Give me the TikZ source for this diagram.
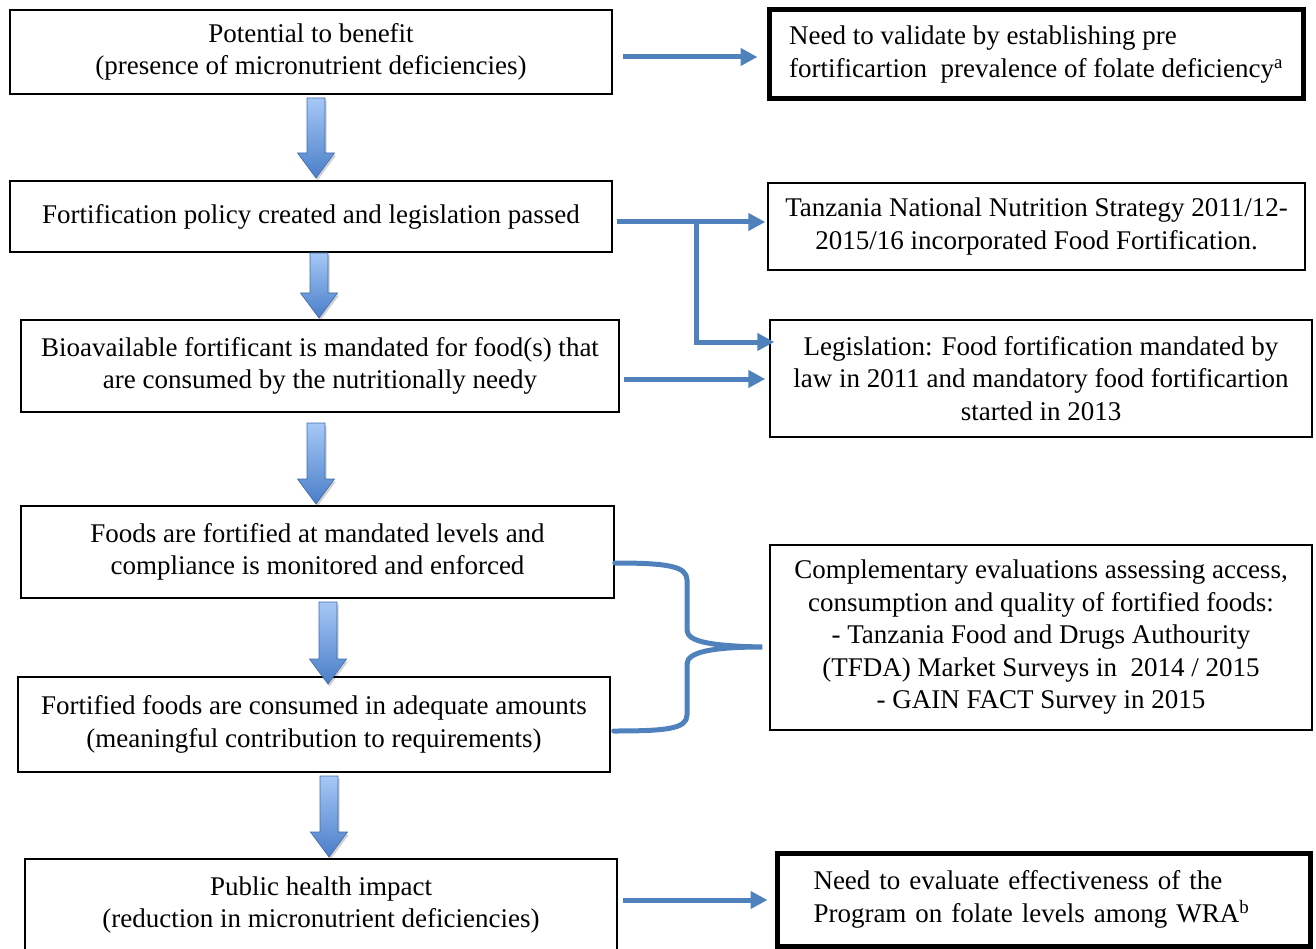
\documentclass[tikz,border=0pt]{standalone}
\usepackage{fontspec}
\setmainfont{Liberation Serif}
\usepackage{tikz}
\usetikzlibrary{positioning,calc,arrows.meta}

\definecolor{linkblue}{HTML}{4F81BD}
\definecolor{arrowtop}{HTML}{A6C8F6}
\definecolor{arrowbot}{HTML}{4A7EC9}

% block arrow: centre x, top y, tip y
\newcommand{\blockarr}[3]{%
  \shade[top color=arrowtop, bottom color=arrowbot, draw=arrowbot!85!black, line width=0.6pt,
    preaction={fill=black, opacity=0.18, transform canvas={xshift=1.5pt, yshift=-2.5pt}}]
    (#1-9,#2) -- (#1+9,#2) -- (#1+9,#3-25) -- (#1+18.5,#3-25) -- (#1,#3)
    -- (#1-18.5,#3-25) -- (#1-9,#3-25) -- cycle;}

\begin{document}
\begin{tikzpicture}[x=1pt,y=-1pt,
  box/.style={draw, line width=1.5pt, align=center, inner sep=0pt,
    font=\fontsize{27}{32.5}\selectfont},
  thickbox/.style={box, line width=5pt},
  link/.style={draw=linkblue, line width=5pt, -{Triangle[length=17pt,width=17pt]}}]
  \useasboundingbox (0,0) rectangle (1316,949);

  % left column
  \node[box, minimum width=602pt, minimum height=84pt] (b1) at (311,52)
    {Potential to benefit\\(presence of micronutrient deficiencies)};
  \node[box, minimum width=602pt, minimum height=71pt] (b2) at (311,216.5)
    {Fortification policy created and legislation passed};
  \node[box, minimum width=598pt, minimum height=92pt] (b3) at (320,366)
    {Bioavailable fortificant is mandated for food(s) that\\are consumed by the nutritionally needy};
  \node[box, minimum width=593pt, minimum height=92pt] (b4) at (317.5,552)
    {Foods are fortified at mandated levels and\\compliance is monitored and enforced};
  \node[box, minimum width=592pt, minimum height=95pt] (b5) at (314,724.5)
    {Fortified foods are consumed in adequate amounts\\(meaningful contribution to requirements)};
  \node[box, minimum width=592pt, minimum height=92pt] (b6) at (321,905)
    {Public health impact\\(reduction in micronutrient deficiencies)};

  % right column
  \node[thickbox, align=left, minimum width=534pt, minimum height=89pt] (r1) at (1036,54.5)
    {Need to validate by establishing pre\\fortificartion~ prevalence of folate deficiency\textsuperscript{a}};
  \node[box, minimum width=537pt, minimum height=87pt] (r2) at (1036.5,226.5)
    {Tanzania National Nutrition Strategy 2011/12-\\2015/16 incorporated Food Fortification.};
  \node[box, minimum width=542pt, minimum height=117pt] (r3) at (1041,378.5)
    {Legislation: Food fortification mandated by\\law in 2011 and mandatory food fortificartion\\started in 2013};
  \node[box, minimum width=542pt, minimum height=185pt] (r4) at (1041,637.5)
    {Complementary evaluations assessing access,\\consumption and quality of fortified foods:\\- Tanzania Food and Drugs Authourity\\(TFDA) Market Surveys in~ 2014 / 2015\\- GAIN FACT Survey in 2015};
  \node[thickbox, align=left, text width=460pt, inner xsep=36.5pt, minimum height=93pt] (r5) at (1043.5,899.5)
    {Need to evaluate effectiveness of the\\Program on folate levels among WRA\textsuperscript{b}};

  % block arrows down the left column
  \blockarr{316}{98}{178}
  \blockarr{319}{253}{318}
  \blockarr{316}{423}{504}
  \blockarr{328}{602}{684}
  \blockarr{329}{776}{857}

  % links to the right column
  \coordinate (c1) at ($(b1.east)+(10,5)$);
  \draw[link, shorten >=9pt] (c1) -- (c1 -| r1.west);
  \coordinate (c2) at ($(b2.east)+(4,5.5)$);
  \draw[link, shorten >=2pt] (c2) -- (c2 -| r2.west);
  \coordinate (c2j) at ($(c2)+(80,0)$);
  \draw[link, shorten >=-5pt] (c2j) |- ([yshift=36.5pt]r3.west);
  \coordinate (c3) at ($(b3.east)+(4,13)$);
  \draw[link, shorten >=4pt] (c3) -- (c3 -| r3.west);
  \coordinate (c6) at ($(b6.east)+(5,-5)$);
  \draw[link, shorten >=7pt] (c6) -- (c6 -| r5.west);

  % brace
  \coordinate (k1) at ($(b4.east)+(0,11)$);
  \coordinate (k2) at ($(b5.east)+(3,6.5)$);
  \coordinate (kt) at ($(r4.west)+(-7,9.5)$);
  \draw[draw=linkblue, line width=5pt, line cap=round]
    (k1) .. controls +(52,0) and +(0,-14) .. (687,580) -- (687,630)
    .. controls +(0,12) and +(-50,-1) .. (kt)
    .. controls +(-50,0) and +(0,-12) .. (687,664) -- (687,715)
    .. controls +(0,14) and +(52,0) .. (k2);
\end{tikzpicture}
\end{document}
